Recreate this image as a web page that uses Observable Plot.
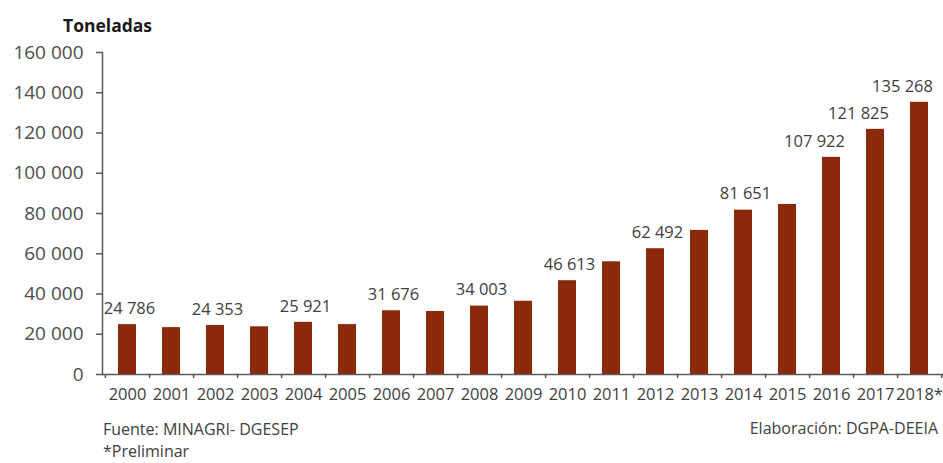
<!DOCTYPE html>
<html>
<head>
<meta charset="utf-8">
<script src="https://cdn.jsdelivr.net/npm/d3@7"></script>
<script src="https://cdn.jsdelivr.net/npm/@observablehq/plot@0.6"></script>
<style>
  html, body { margin: 0; padding: 0; background: #ffffff; }
  #wrap { position: relative; width: 943px; height: 463px; overflow: hidden; font-family: "Open Sans", sans-serif; }
  #chart { position: absolute; left: 0; top: 0; }
  .title { position: absolute; left: 63px; top: 14px; font-weight: bold; font-size: 17.5px; line-height: 22px; color: #1a1a1a; }
  .note { position: absolute; font-size: 16px; line-height: 21px; color: #404040; white-space: nowrap; }
</style>
</head>
<body>
<div id="wrap">
  <div id="chart"></div>
  <div class="title">Toneladas</div>
  <div class="note" style="left:103px; top:419px;">Fuente: MINAGRI- DGESEP</div>
  <div class="note" style="left:103px; top:441px;">*Preliminar</div>
  <div class="note" style="right:5px; top:418px;">Elaboración: DGPA-DEEIA</div>
</div>
<script>
const years = ["2000","2001","2002","2003","2004","2005","2006","2007","2008","2009",
               "2010","2011","2012","2013","2014","2015","2016","2017","2018*"];
const values = [24786, 23300, 24353, 23700, 25921, 24800, 31676, 31300, 34003, 36400,
                46613, 56000, 62492, 71600, 81651, 84500, 107922, 121825, 135268];
const labeledYears = ["2000","2002","2004","2006","2008","2010","2012","2014","2016","2017","2018*"];
const yTicks = [0, 20000, 40000, 60000, 80000, 100000, 120000, 140000, 160000];

const data = years.map((y, i) => ({year: y, value: values[i]}));
const fmt = d => d3.format(",")(d).replace(/,/g, " ");

const W = 943, ML = 102, MR = 0;
const padIn = 0.6, padOut = 0.3;
const step = (W - ML - MR) / (years.length - padIn + 2 * padOut);
const half = step / 2;

const labelsMain = data.filter(d => labeledYears.includes(d.year) && d.value < 100000);
const labelsHigh = data.filter(d => labeledYears.includes(d.year) && d.value >= 100000);

const axisColor = "#595959";

const chart = Plot.plot({
  width: W,
  height: 420,
  marginTop: 52,
  marginBottom: 46,
  marginLeft: ML,
  marginRight: MR,
  style: {fontFamily: "'Open Sans', sans-serif", color: "#404040", background: "#ffffff", overflow: "visible"},
  x: {domain: years, paddingInner: padIn, paddingOuter: padOut, label: null},
  y: {domain: [0, 160000], label: null},
  marks: [
    Plot.barY(data, {x: "year", y: "value", fill: "#8B290D"}),
    Plot.axisY(yTicks, {tickSize: 6, tickPadding: 13, tickFormat: fmt, fontSize: 19, stroke: axisColor, strokeWidth: 1.5, fill: "#4d4d4d", label: null}),
    Plot.axisX({tickSize: 0, tickPadding: 14, fontSize: 16.5, fill: "#404040", label: null}),
    Plot.axisX({tickSize: 4, text: null, dx: half, stroke: axisColor, strokeWidth: 1.5, label: null}),
    Plot.axisX([years[0]], {tickSize: 4, text: null, dx: -half, stroke: axisColor, strokeWidth: 1.5, label: null}),
    Plot.frame({anchor: "left", stroke: axisColor, strokeWidth: 1.5}),
    Plot.ruleY([0], {stroke: axisColor, strokeWidth: 1.5}),
    Plot.text(labelsMain, {x: "year", y: "value", text: d => fmt(d.value), dy: -16, dx: 2, fontSize: 16.5, fill: "#404040", lineAnchor: "middle"}),
    Plot.text(labelsHigh, {x: "year", y: "value", text: d => fmt(d.value), dy: -16, dx: -17, fontSize: 16.5, fill: "#404040", lineAnchor: "middle"})
  ]
});
document.getElementById("chart").appendChild(chart);
</script>
</body>
</html>
